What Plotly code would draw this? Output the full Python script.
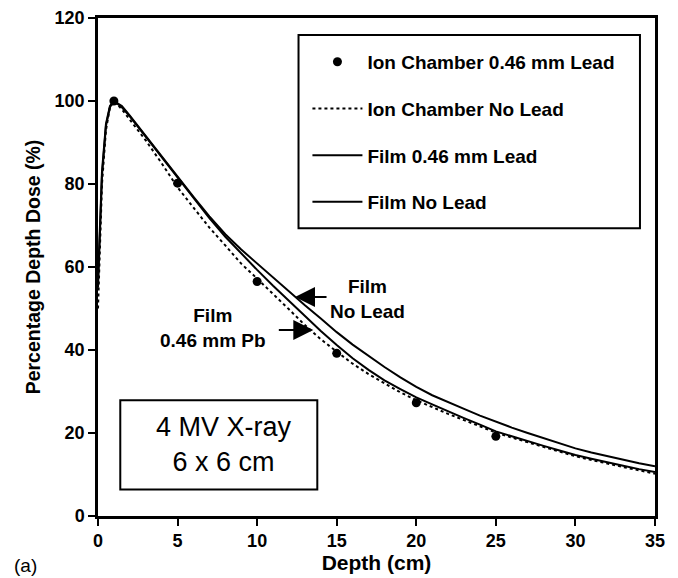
import plotly.graph_objects as go

# ---- data ----
depth = [0, 0.25, 0.5, 0.75, 1, 1.5, 2, 3, 4, 5, 6, 7, 8, 9, 10, 11, 12, 13, 14, 15,
         16, 17, 18, 19, 20, 21, 22, 23, 24, 25, 26, 27, 28, 29, 30, 31, 32, 33, 34, 35]

film_no_lead = [55, 82, 94, 98.5, 100, 98.8, 96.5, 91.6, 86.6, 81.8, 76.9, 72.2, 67.9, 64.2,
                60.8, 57.4, 54.1, 50.8, 47.6, 44.3, 41.3, 38.5, 35.9, 33.4, 31.1, 29.1, 27.4,
                25.8, 24.2, 22.7, 21.3, 20.0, 18.8, 17.5, 16.3, 15.3, 14.4, 13.5, 12.7, 12.0]

film_lead = [57, 83, 94.5, 98.8, 100, 98.5, 96.3, 91.4, 86.4, 81.5, 76.6, 71.8, 67.3, 63.2,
             59.3, 55.5, 51.8, 48.2, 44.6, 41.2, 38.0, 35.2, 32.7, 30.6, 28.6, 26.9, 25.2,
             23.6, 22.0, 20.4, 19.2, 18.0, 16.9, 15.8, 14.7, 13.8, 12.9, 12.1, 11.3, 10.6]

ion_no_lead = [50, 80, 93, 98.5, 100, 98.0, 95.5, 90.5, 85.0, 79.2, 74.3, 69.5, 65.2, 60.8,
               57.2, 53.6, 49.8, 46.0, 42.6, 39.6, 36.7, 34.2, 31.9, 29.8, 27.9, 26.2, 24.6,
               23.1, 21.6, 20.1, 18.9, 17.8, 16.6, 15.5, 14.4, 13.5, 12.6, 11.8, 11.0, 10.2]

ion_depth = [1, 5, 10, 15, 20, 25]
ion_lead = [100, 80.2, 56.5, 39.2, 27.3, 19.2]

x_ticks = [0, 5, 10, 15, 20, 25, 30, 35]
y_ticks = [0, 20, 40, 60, 80, 100, 120]

FONT = "Liberation Sans, Arial, Helvetica, sans-serif"

fig = go.Figure()

fig.add_trace(go.Scatter(x=depth, y=ion_no_lead, mode="lines", name="<b>Ion Chamber No Lead</b>",
                         line=dict(color="black", width=2, dash="dot"),
                         legendgroup="b", legendrank=2))
fig.add_trace(go.Scatter(x=depth, y=film_lead, mode="lines", name="<b>Film 0.46 mm Lead</b>",
                         line=dict(color="black", width=2),
                         legendgroup="c", legendrank=3))
fig.add_trace(go.Scatter(x=depth, y=film_no_lead, mode="lines", name="<b>Film No Lead</b>",
                         line=dict(color="black", width=2),
                         legendgroup="d", legendrank=4))
fig.add_trace(go.Scatter(x=ion_depth, y=ion_lead, mode="markers", name="<b>Ion Chamber 0.46 mm Lead</b>",
                         marker=dict(color="black", size=9, symbol="circle"),
                         legendgroup="a", legendrank=1))

# The page body has an 8px margin, so the figure is sized to fill the window exactly.
fig.update_layout(
    width=670, height=570,
    margin=dict(l=90, r=23, t=10, b=62, autoexpand=False),
    paper_bgcolor="white", plot_bgcolor="white",
    font=dict(family=FONT, color="black"),
    showlegend=True,
    legend=dict(x=0.376, y=0.95, xanchor="left", yanchor="top",
                bgcolor="rgba(0,0,0,0)", borderwidth=0,
                font=dict(size=19, family=FONT, color="black"),
                itemwidth=50, tracegroupgap=19),
    xaxis=dict(range=[0, 35], tickvals=x_ticks, ticktext=["<b>%d</b>" % v for v in x_ticks],
               automargin=False,
               showline=True, linecolor="black", linewidth=2.5, mirror=True,
               ticks="outside", ticklen=7, tickwidth=2, tickcolor="black",
               showgrid=False, zeroline=False,
               tickfont=dict(size=18, family=FONT),
               title=dict(text="<b>Depth (cm)</b>", font=dict(size=21, family=FONT), standoff=0)),
    yaxis=dict(range=[0, 120], tickvals=y_ticks, ticktext=["<b>%d</b>" % v for v in y_ticks],
               automargin=False,
               showline=True, linecolor="black", linewidth=2.5, mirror=True,
               ticks="outside", ticklen=7, tickwidth=2, tickcolor="black",
               showgrid=False, zeroline=False,
               tickfont=dict(size=18, family=FONT),
               title=dict(text="<b>Percentage Depth Dose (%)</b>", font=dict(size=19.5, family=FONT), standoff=9)),
)

# legend frame
fig.add_shape(type="rect", xref="paper", yref="paper",
              x0=0.36, x1=0.973, y0=0.578, y1=0.966,
              line=dict(color="black", width=2), fillcolor="rgba(0,0,0,0)", layer="above")

# 4 MV box
fig.add_shape(type="rect", xref="x", yref="y", x0=1.4, x1=13.78, y0=6.4, y1=27.9,
              line=dict(color="black", width=2), fillcolor="white", layer="above")
fig.add_annotation(x=7.9, y=17.3, xref="x", yref="y", showarrow=False,
                   text="4 MV X-ray<br>6 x 6 cm", font=dict(size=27, family=FONT),
                   align="center")

# text labels with arrows
fig.add_annotation(x=16.95, y=52.3, xref="x", yref="y", showarrow=False,
                   text="<b>Film<br>No Lead</b>", font=dict(size=19, family=FONT), align="center")
fig.add_annotation(x=7.2, y=45.4, xref="x", yref="y", showarrow=False,
                   text="<b>Film<br>0.46 mm Pb</b>", font=dict(size=19, family=FONT), align="center")
fig.add_annotation(x=12.38, y=52.8, xref="x", yref="y", showarrow=True, text="",
                   ax=33, ay=0, arrowhead=2, arrowsize=2, arrowwidth=2, arrowcolor="black")
fig.add_annotation(x=13.53, y=44.8, xref="x", yref="y", showarrow=True, text="",
                   ax=-36, ay=0, arrowhead=2, arrowsize=2, arrowwidth=2, arrowcolor="black")

fig.add_annotation(xref="paper", yref="paper", x=-0.155, y=-0.1,
                   xanchor="left", yanchor="middle", showarrow=False, text="(a)",
                   font=dict(size=19, family=FONT))

fig.write_html("out.html")
